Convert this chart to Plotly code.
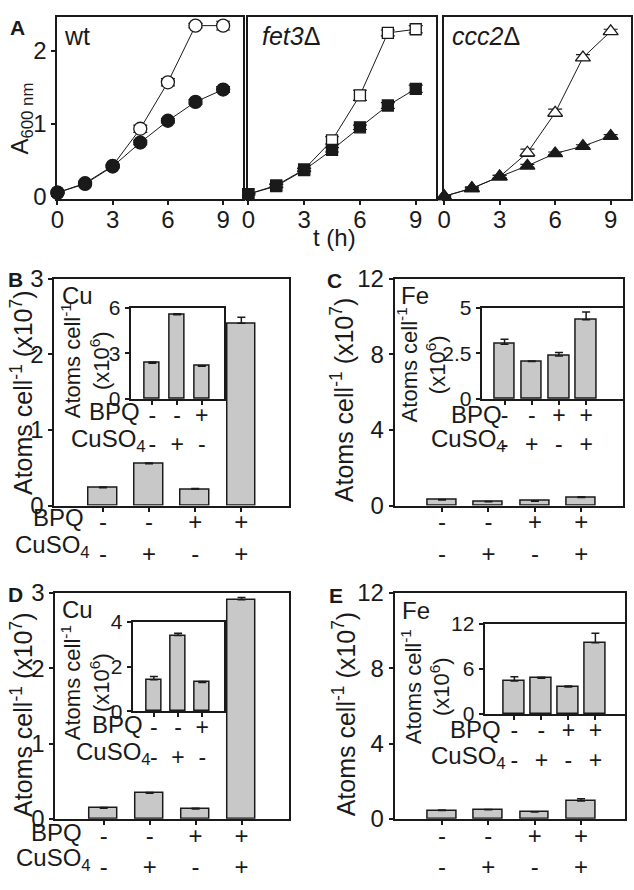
import plotly.graph_objects as go

W, H = 634, 890
FONT = "Liberation Sans, Arial, sans-serif"
INK = "#1a1a1a"
BAR_FILL = "#c8c8c8"

# ---- panel A: growth curves (A600 nm vs time) ----
t_h = [0, 1.5, 3, 4.5, 6, 7.5, 9]
wt_open = [0.05, 0.18, 0.42, 0.93, 1.57, 2.35, 2.35]
wt_open_err = [0.01, 0.02, 0.02, 0.05, 0.05, 0.03, 0.06]
wt_filled = [0.05, 0.17, 0.41, 0.74, 1.04, 1.30, 1.47]
wt_filled_err = [0.01, 0.02, 0.02, 0.03, 0.03, 0.03, 0.04]
fet3_open = [0.03, 0.15, 0.37, 0.77, 1.39, 2.25, 2.30]
fet3_open_err = [0.01, 0.02, 0.02, 0.05, 0.07, 0.04, 0.05]
fet3_filled = [0.03, 0.14, 0.36, 0.64, 0.95, 1.25, 1.48]
fet3_filled_err = [0.01, 0.02, 0.02, 0.03, 0.03, 0.04, 0.05]
ccc2_open = [0.0, 0.11, 0.27, 0.60, 1.15, 1.91, 2.27]
ccc2_open_err = [0.01, 0.02, 0.02, 0.05, 0.05, 0.04, 0.03]
ccc2_filled = [0.0, 0.11, 0.27, 0.42, 0.59, 0.69, 0.83]
ccc2_filled_err = [0.01, 0.01, 0.02, 0.02, 0.02, 0.02, 0.02]
strain_names = ["wt", "<i>fet3</i>Δ", "<i>ccc2</i>Δ"]

# ---- panels B-E: metal content ----
bpq_4 = ["-", "-", "+", "+"]
cuso4_4 = ["-", "+", "-", "+"]
bpq_3 = ["-", "-", "+"]
cuso4_3 = ["-", "+", "-"]

cu_b = [0.235, 0.555, 0.215, 2.41]
cu_b_err = [0.01, 0.01, 0.01, 0.08]
cu_b_in = [2.35, 5.55, 2.15]
cu_b_in_err = [0.08, 0.06, 0.04]

fe_c = [0.30, 0.205, 0.235, 0.435]
fe_c_err = [0.02, 0.01, 0.02, 0.04]
fe_c_in = [3.0, 2.05, 2.35, 4.35]
fe_c_in_err = [0.28, 0.03, 0.2, 0.42]

cu_d = [0.141, 0.339, 0.129, 2.91]
cu_d_err = [0.01, 0.01, 0.01, 0.03]
cu_d_in = [1.41, 3.39, 1.29]
cu_d_in_err = [0.15, 0.1, 0.04]

fe_e = [0.44, 0.48, 0.36, 0.95]
fe_e_err = [0.03, 0.02, 0.02, 0.12]
fe_e_in = [4.42, 4.77, 3.6, 9.5]
fe_e_in_err = [0.55, 0.15, 0.15, 1.25]


def fx(p):
    return p / W


def fy(p):
    return 1 - p / H


def dom_x(a, b):
    return [fx(a), fx(b)]


def dom_y(top, bottom):
    return [fy(bottom), fy(top)]


def box_axis(**kw):
    d = dict(showline=True, mirror=True, linecolor=INK, linewidth=2,
             showgrid=False, zeroline=False, ticks="outside", ticklen=4,
             tickcolor=INK, tickwidth=1.5, tickfont=dict(size=24, color=INK, family=FONT))
    d.update(kw)
    return d


fig = go.Figure()
layout = {}

# panel A
curve_sets = [
    (wt_open, wt_open_err, wt_filled, wt_filled_err, "circle"),
    (fet3_open, fet3_open_err, fet3_filled, fet3_filled_err, "square"),
    (ccc2_open, ccc2_open_err, ccc2_filled, ccc2_filled_err, "triangle-up"),
]
a_doms = [(51, 239), (244, 434), (442, 631)]
for i, (yo, eo, yf, ef, sym) in enumerate(curve_sets):
    xa = "x" if i == 0 else f"x{i + 1}"
    ya = "y" if i == 0 else f"y{i + 1}"
    msize = 13 if sym != "square" else 11
    for yy, ee, fill in [(yo, eo, "white"), (yf, ef, INK)]:
        fig.add_trace(go.Scatter(
            x=t_h, y=yy, xaxis=xa, yaxis=ya, mode="lines+markers",
            line=dict(color=INK, width=1),
            marker=dict(symbol=sym, size=msize, color=fill, line=dict(color=INK, width=1.3)),
            error_y=dict(type="data", array=ee, color=INK, thickness=1.2, width=7),
            cliponaxis=False, showlegend=False))
    key = "" if i == 0 else str(i + 1)
    layout["xaxis" + key] = box_axis(domain=dom_x(*a_doms[i]), range=[0, 10.1],
                                     tickvals=[0, 3, 6, 9], anchor=ya, ticklabelstandoff=-6)
    layout["yaxis" + key] = box_axis(domain=dom_y(3, 191), range=[-0.04, 2.47],
                                     tickvals=[0, 1, 2], anchor=xa,
                                     showticklabels=(i == 0), ticks="outside" if i == 0 else "")

# bar panels: values, err, sign rows, x domain, y domain, x range, y range, y ticks,
# bar width, tick font size, sign font size
bar_panels = [
    (cu_b, cu_b_err, bpq_4, cuso4_4, (48, 285), (273, 507), [-1.05, 4.03], [0, 3], [0, 1, 2, 3], 0.62, 24, 24),
    (cu_b_in, cu_b_in_err, bpq_3, cuso4_3, (125, 219), (303, 397), [-0.88, 2.88], [0, 6], [0, 3, 6], 0.6, 21, 23),
    (fe_c, fe_c_err, bpq_4, cuso4_4, (392, 623), (273, 507), [-1.02, 3.9], [0, 12], [0, 4, 8, 12], 0.62, 24, 24),
    (fe_c_in, fe_c_in_err, bpq_4, cuso4_4, (480, 623), (303, 397), [-0.84, 4.36], [0, 5], [0, 2.5, 5], 0.76, 21, 23),
    (cu_d, cu_d_err, bpq_4, cuso4_4, (49, 285), (597, 830), [-1.05, 4.03], [0, 3], [0, 1, 2, 3], 0.62, 24, 24),
    (cu_d_in, cu_d_in_err, bpq_3, cuso4_3, (127, 219), (627, 719), [-0.88, 2.88], [0, 4], [0, 2, 4], 0.6, 21, 23),
    (fe_e, fe_e_err, bpq_4, cuso4_4, (392, 625), (597, 830), [-1.02, 3.95], [0, 12], [0, 4, 8, 12], 0.62, 24, 24),
    (fe_e_in, fe_e_in_err, bpq_4, cuso4_4, (483, 625), (629, 722), [-1.1, 4.1], [0, 12], [0, 6, 12], 0.77, 21, 23),
]
for j, (vals, errs, r1, r2, xd, yd, xr, yr, yt, bw, tsz, ssz) in enumerate(bar_panels):
    n = j + 4
    xs = list(range(len(vals)))
    fig.add_trace(go.Bar(
        x=xs, y=vals, xaxis=f"x{n}", yaxis=f"y{n}", width=bw,
        marker=dict(color=BAR_FILL, line=dict(color=INK, width=1.5)),
        error_y=dict(type="data", array=errs, arrayminus=[0] * len(errs), symmetric=False,
                     color=INK, thickness=1.5, width=4),
        showlegend=False))
    layout[f"xaxis{n}"] = box_axis(domain=dom_x(*xd), range=xr, anchor=f"y{n}",
                                   tickvals=xs, ticktext=[a + "<br>" + b for a, b in zip(r1, r2)],
                                   tickfont=dict(size=ssz, color=INK, family=FONT),
                                   ticklabelstandoff=-10)
    layout[f"yaxis{n}"] = box_axis(domain=dom_y(*yd), range=yr, anchor=f"x{n}", tickvals=yt,
                                   tickfont=dict(size=tsz, color=INK, family=FONT))

ann = []


def label(text, x, y, size=24, xanchor="center", angle=0, bold=False):
    ann.append(dict(text=f"<b>{text}</b>" if bold else text, x=fx(x), y=fy(y),
                    xref="paper", yref="paper", showarrow=False, xanchor=xanchor,
                    yanchor="middle", textangle=angle,
                    font=dict(size=size, color=INK, family=FONT)))


# panel letters
label("A", 11, 14, size=21, bold=True)
label("B", 9, 274, size=21, bold=True)
label("C", 331, 275, size=21, bold=True)
label("D", 9, 599, size=21, bold=True)
label("E", 333, 600, size=21, bold=True)

# panel A texts
for name, x0 in zip(strain_names, [56, 256, 448]):
    label(name, x0, 23, size=25, xanchor="left")
label("A<sub>600 nm</sub>", 15, 108, size=24, angle=-90)
label("t (h)", 331, 231, size=24)

# metal labels
label("Cu", 54, 290, size=24, xanchor="left")
label("Fe", 396, 290, size=24, xanchor="left")
label("Cu", 54, 614, size=24, xanchor="left")
label("Fe", 397, 615, size=24, xanchor="left")

# main y titles
main_title = "Atoms cell<sup>-1</sup> (x10<sup>7</sup>)"
label(main_title, 15, 390, size=25, angle=-90)
label(main_title, 339, 398, size=25, angle=-90)
label(main_title, 15, 722, size=25, angle=-90)
label(main_title, 341, 722, size=25, angle=-90)

# inset y titles
inset_title = "Atoms cell<sup>-1</sup><br>(x10<sup>6</sup>)"
label(inset_title, 79, 358, size=22, angle=-90)
label(inset_title, 419, 362, size=22, angle=-90)
label(inset_title, 79, 690, size=22, angle=-90)
label(inset_title, 424, 694, size=22, angle=-90)

# treatment row labels
for bx, by, cx, cy in [(80, 519, 86, 549), (137, 410, 143, 440), (503, 413, 507, 440),
                       (78, 844, 87, 872), (140, 733, 148, 763), (502, 738, 507, 767)]:
    label("BPQ", bx, by, size=24, xanchor="right")
    label("CuSO<sub>4</sub>", cx, cy, size=24, xanchor="right")

fig.update_layout(width=W, height=H, margin=dict(l=0, r=0, t=0, b=0),
                  paper_bgcolor="white", plot_bgcolor="white",
                  font=dict(family=FONT, color=INK), annotations=ann, bargap=0, **layout)
fig.write_html("out.html", config={"displayModeBar": False},
               post_script="document.body.style.margin='0';document.body.style.overflow='hidden';")
